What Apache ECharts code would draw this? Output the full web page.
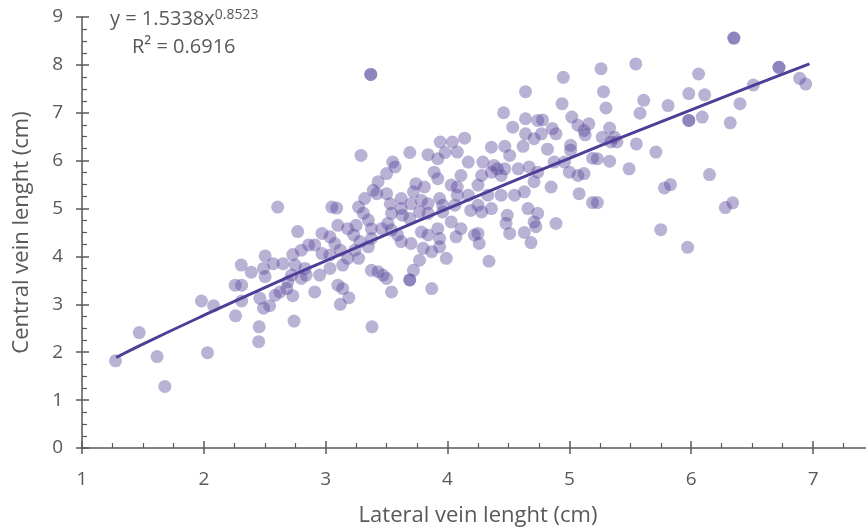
<!DOCTYPE html>
<html lang="en">
<head>
    <meta charset="UTF-8">
    <title>Vein length</title>
    <script src="https://cdn.jsdelivr.net/npm/echarts@6/dist/echarts.min.js"></script>
    <style>
        body { margin: 0; background: #fff; }
    </style>
</head>
<body>
 <div id="myChart" style="width: 866px;height: 528px;"></div>
 <script>
     // lateral vein length (x) and central vein length (y), read point by point
     var lateralVein = [
         1.275, 1.47, 1.616, 1.68, 2.03, 1.98, 2.08, 2.26, 2.257, 2.31, 2.31, 2.307, 2.389, 2.46, 2.49, 2.503, 2.49, 2.54,
         2.503, 2.454, 2.45, 2.57, 2.585, 2.625, 2.65, 2.68, 2.69, 2.73, 2.73, 2.74, 2.606, 2.77, 2.80, 2.80,
         3.29, 3.69, 3.84, 3.94, 3.98, 3.55, 3.57, 3.50, 3.43, 3.39, 3.50, 3.42, 3.32, 3.27, 3.31, 3.35, 3.10, 3.05,
         3.09, 2.97, 3.74, 3.89, 3.92, 3.81, 3.72, 3.62, 3.53, 3.62, 3.70, 3.785, 3.84, 3.935, 3.96, 3.54, 3.63, 3.69,
         3.77, 3.84, 3.51, 3.46, 3.54, 3.59, 3.62, 3.70, 3.785, 3.84, 3.92, 3.935, 3.80, 3.87, 3.935, 3.77, 3.72, 3.69,
         3.69, 3.87, 3.54, 3.50, 3.43, 3.375, 3.47, 3.35, 3.375, 3.28, 3.24, 3.27, 3.18, 3.23, 3.12, 3.14, 3.10, 3.14,
         3.035, 2.95, 2.91, 2.86, 2.91, 2.97, 3.035, 2.75, 2.83, 2.84, 2.72, 3.18, 3.25, 3.035, 3.075, 3.375, 3.37, 3.37,
         3.12, 3.19, 3.38,
         4.95, 4.64, 4.94, 4.46, 5.02, 4.64, 4.74, 4.78, 4.535, 5.07, 5.16, 4.86, 4.89, 5.12, 5.13, 4.64, 4.71, 4.77,
         4.14, 4.04, 4.36, 4.47, 4.62, 4.82, 5.01, 5.01, 5.19, 4.08, 3.92, 4.17, 4.29, 4.38, 4.41, 4.47, 4.51, 4.58,
         4.67, 4.74, 4.875, 4.96, 5.00, 5.07, 5.12, 4.28, 4.36, 4.44, 4.25, 4.08, 4.03, 4.11, 4.08, 4.17, 4.33, 4.44,
         4.55, 4.63, 4.71, 4.85, 5.08, 5.19, 4.66, 4.74, 4.49, 4.25, 4.36, 4.06, 4.19,
         3.96, 4.03, 4.11, 4.07, 4.22, 4.26, 4.25, 3.99, 4.34, 4.48, 4.51, 4.71, 4.725, 4.63, 4.685, 4.89, 4.28,
         6.35, 6.35, 6.72, 6.72, 6.89, 6.94, 6.51, 6.06, 5.545, 5.26, 5.28, 5.61, 5.98, 6.11, 6.40, 5.81, 5.58, 5.30,
         5.98, 5.98, 6.09, 6.32, 5.33, 5.27, 5.37, 5.39, 5.34, 5.55, 5.71, 5.33, 5.23, 5.49, 6.15, 5.83, 5.78, 6.34,
         6.28, 5.75, 5.97, 5.23
     ];
     var centralVein = [
         1.82, 2.41, 1.91, 1.285, 1.99, 3.07, 2.97, 2.76, 3.40, 3.40, 3.07, 3.82, 3.67, 3.125, 3.75, 3.58, 2.92, 2.97,
         4.01, 2.53, 2.22, 3.85, 3.19, 3.26, 3.85, 3.33, 3.47, 3.18, 4.04, 2.65, 5.03, 4.52, 4.13, 3.54,
         6.11, 6.17, 6.125, 6.39, 6.17, 5.97, 5.87, 5.73, 5.56, 5.38, 5.31, 5.31, 5.21, 5.03, 4.90, 4.76, 4.65, 5.03,
         5.01, 4.48, 5.52, 5.76, 5.625, 5.45, 5.35, 5.21, 5.10, 5.00, 5.10, 5.17, 5.10, 5.21, 5.07, 4.90, 4.86, 4.79,
         4.93, 4.90, 4.69, 4.58, 4.55, 4.45, 4.31, 4.27, 4.51, 4.45, 4.58, 4.375, 4.17, 4.10, 4.20, 3.92, 3.71, 3.51,
         3.51, 3.33, 3.26, 3.54, 3.68, 3.71, 3.61, 4.20, 4.375, 4.31, 4.13, 3.96, 3.96, 4.45, 4.13, 3.82, 3.40, 3.33,
         3.75, 3.61, 3.26, 4.24, 4.24, 4.06, 4.03, 3.82, 3.75, 3.61, 3.61, 4.58, 4.65, 4.41, 4.27, 4.58, 7.80, 7.80,
         3.00, 3.14, 2.53,
         7.74, 7.44, 7.19, 7.00, 6.91, 6.875, 6.84, 6.85, 6.70, 6.74, 6.77, 6.67, 6.56, 6.63, 6.54, 6.56, 6.46, 6.56,
         6.47, 6.39, 6.28, 6.30, 6.30, 6.24, 6.32, 6.22, 6.05, 6.18, 6.04, 5.97, 5.97, 5.90, 5.83, 5.83, 6.11, 5.83,
         5.87, 5.76, 5.97, 5.97, 5.76, 5.69, 5.73, 5.69, 5.76, 5.69, 5.49, 5.45, 5.49, 5.69, 5.28, 5.28, 5.28, 5.28,
         5.28, 5.35, 5.56, 5.45, 5.31, 5.125, 5.00, 4.90, 4.86, 5.07, 5.00, 5.07, 4.96,
         4.93, 4.72, 4.58, 4.41, 4.45, 4.27, 4.48, 3.96, 3.90, 4.69, 4.48, 4.72, 4.62, 4.50, 4.29, 4.69, 4.93,
         8.56, 8.56, 7.95, 7.95, 7.72, 7.60, 7.58, 7.81, 8.02, 7.92, 7.44, 7.26, 7.40, 7.375, 7.19, 7.15, 6.99, 7.10,
         6.84, 6.84, 6.91, 6.79, 6.68, 6.49, 6.49, 6.39, 6.39, 6.35, 6.18, 5.99, 6.04, 5.83, 5.71, 5.50, 5.43, 5.12,
         5.02, 4.56, 4.19, 5.125
     ];

     // power trendline
     var trendX = [1.28, 1.5, 2, 2.5, 3, 3.5, 4, 4.5, 5, 5.5, 6, 6.5, 6.97];
     var trendY = [1.89, 2.17, 2.77, 3.35, 3.91, 4.46, 5.00, 5.53, 6.05, 6.56, 7.06, 7.56, 8.02];

     var xTicks = [1, 2, 3, 4, 5, 6, 7];
     var yTicks = [0, 1, 2, 3, 4, 5, 6, 7, 8, 9];

     var points = lateralVein.map(function (x, i) { return [x, centralVein[i]]; });
     var trend = trendX.map(function (x, i) { return [x, trendY[i]]; });

     var grey = '#595959';
     var font = '"Open Sans", sans-serif';

     // main axis draws line, labels, inner ticks; the ghost axis adds the outer half of the major ticks
     function valueAxis(min, max, name, isX) {
         return {
             type: 'value',
             min: min,
             max: max,
             interval: 1,
             name: name,
             nameLocation: 'middle',
             nameGap: isX ? 57 : 49,
             nameTextStyle: { color: grey, fontSize: 22, fontFamily: font },
             axisLine: { show: true, onZero: false, lineStyle: { color: grey, width: 1.5 } },
             axisTick: { show: true, inside: true, length: 7, lineStyle: { color: grey, width: 1.5 } },
             minorTick: { show: true, splitNumber: 4, length: 5, lineStyle: { color: grey, width: 1.2 } },
             axisLabel: {
                 color: grey, fontSize: 19, fontFamily: font, margin: isX ? 22 : 19,
                 showMaxLabel: isX ? false : true,
                 formatter: function (v) {
                     var list = isX ? xTicks : yTicks;
                     return list.indexOf(v) >= 0 ? String(v) : '';
                 }
             },
             splitLine: { show: false }
         };
     }
     function ghostAxis(min, max) {
         return {
             type: 'value', min: min, max: max, interval: 1,
             axisLine: { show: false, onZero: false },
             axisTick: { show: true, inside: false, length: 6, lineStyle: { color: grey, width: 1.5 } },
             axisLabel: { show: false },
             splitLine: { show: false }
         };
     }

     var xMain = valueAxis(1, 7.5, 'Lateral vein lenght (cm)', true);
     xMain.position = 'bottom';
     var xGhost = ghostAxis(1, 7.5);
     xGhost.position = 'bottom';
     var yMain = valueAxis(0, 9, 'Central vein lenght (cm)', false);
     yMain.position = 'left';
     var yGhost = ghostAxis(0, 9);
     yGhost.position = 'left';

     var option = {
         animation: false,
         grid: { left: 82, width: 792, top: 17, height: 431, outerBoundsMode: 'none' },
         xAxis: [xMain, xGhost],
         yAxis: [yMain, yGhost],
         graphic: [
             {
                 type: 'text', left: 110, top: 8,
                 style: {
                     text: '{b|y = 1.5338x}{s|0.8523}',
                     rich: {
                         b: { fontSize: 20, fontFamily: font, fill: grey },
                         s: { fontSize: 14, fontFamily: font, fill: grey, verticalAlign: 'top', padding: [0, 0, 9, 0] }
                     }
                 }
             },
             {
                 type: 'text', left: 132, top: 37,
                 style: { text: 'R\u00b2 = 0.6916', fontSize: 20, fontFamily: font, fill: grey }
             }
         ],
         series: [
             {
                 name: 'points',
                 type: 'scatter',
                 symbolSize: 13,
                 itemStyle: { color: 'rgba(79,63,151,0.5)' },
                 data: points
             },
             {
                 name: 'trend',
                 type: 'line',
                 smooth: true,
                 showSymbol: false,
                 symbol: 'none',
                 z: 3,
                 lineStyle: { color: '#4f3e97', width: 3 },
                 data: trend
             }
         ]
     };
     var myChart = echarts.init(document.getElementById('myChart'));
     myChart.setOption(option);
 </script>
</body>
</html>
